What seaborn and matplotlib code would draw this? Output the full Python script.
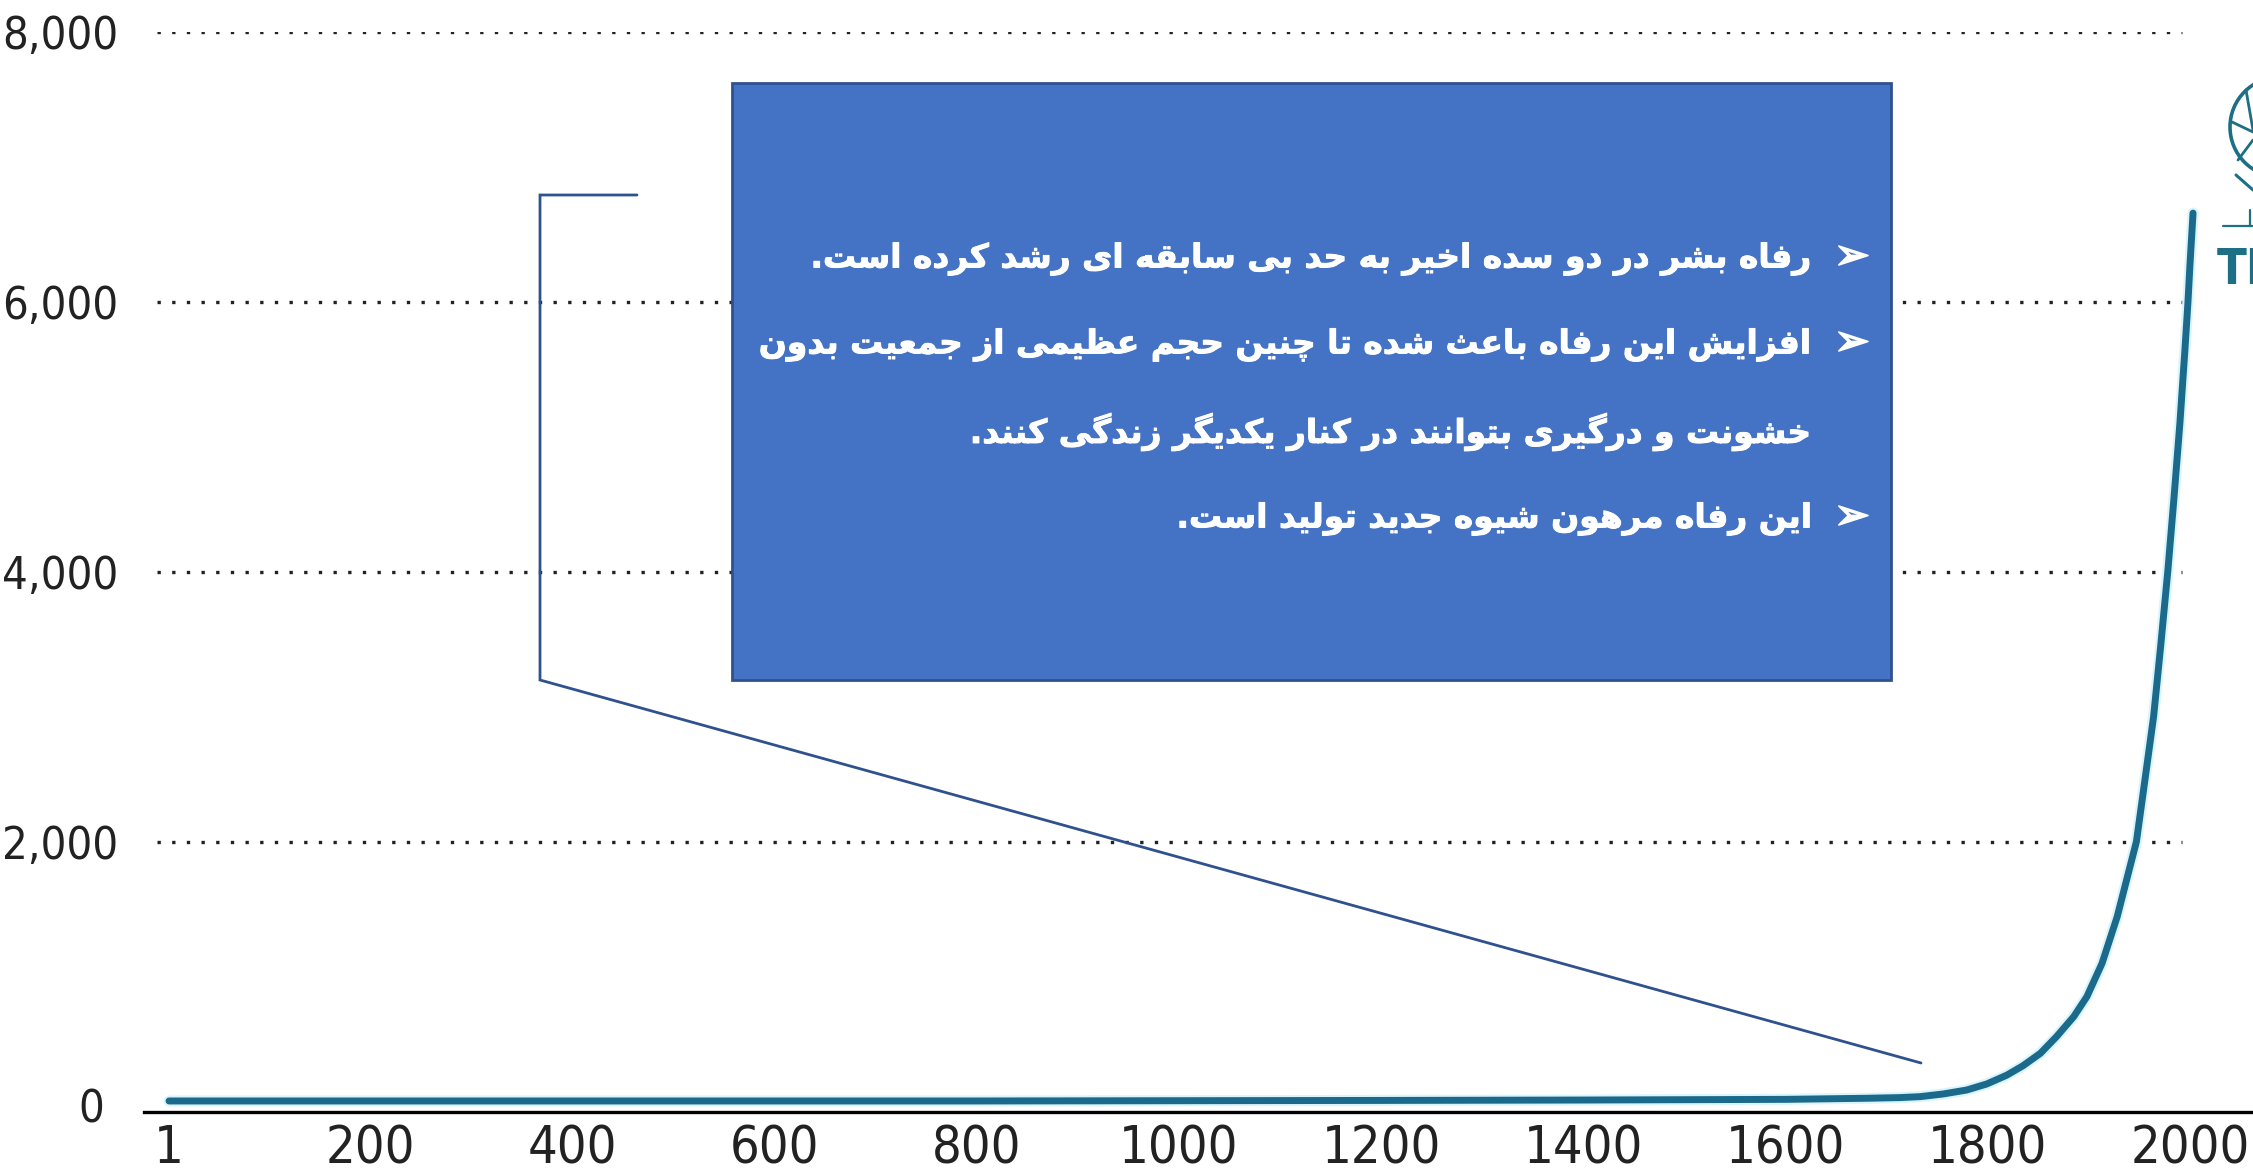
import numpy as np
import pandas as pd
import matplotlib
matplotlib.use('Agg')
import matplotlib.pyplot as plt
import matplotlib.patheffects as pe
from matplotlib.patches import Rectangle, Circle
import seaborn as sns

# values
years = [1, 200, 400, 600, 800, 1000, 1200, 1400, 1600, 1680, 1713, 1733, 1756, 1779, 1799, 1819,
         1835, 1852, 1868, 1885, 1898, 1913, 1928, 1939, 1947, 1955, 1964, 1971, 1978, 1984, 1990,
         1995, 1998, 2000, 2003]
gdp = [78, 78, 78, 78, 78, 80, 82, 85, 90, 98, 103, 110, 130, 159, 204, 270,
       340, 431, 555, 703, 851, 1098, 1444, 1766, 2000, 2434, 2927, 3450, 4000, 4533, 5100,
       5647, 6000, 6280, 6658]

x_ticks = [1, 200, 400, 600, 800, 1000, 1200, 1400, 1600, 1800, 2000]
y_ticks = [0, 2000, 4000, 6000, 8000]
y_labels = ['', '2,000', '4,000', '6,000', '8,000']
zero_label = '0'

bullets = [
    'رفاه بشر در دو سده اخیر به حد بی سابقه ای رشد کرده است.',
    'افزایش این رفاه باعث شده تا چنین حجم عظیمی از جمعیت بدون',
    'خشونت و درگیری بتوانند در کنار یکدیگر زندگی کنند.',
    'این رفاه مرهون شیوه جدید تولید است.',
]
has_arrow = [True, True, False, True]
logo_text = 'TE'

# matplotlib has no arabic shaping, so pick the presentation forms by hand
# letter: isolated, final, initial, medial (two forms = does not join forward)
forms = {
    'ا': (0xFE8D, 0xFE8E), 'د': (0xFEA9, 0xFEAA), 'ذ': (0xFEAB, 0xFEAC),
    'ر': (0xFEAD, 0xFEAE), 'ز': (0xFEAF, 0xFEB0), 'ژ': (0xFB8A, 0xFB8B), 'و': (0xFEED, 0xFEEE),
    'ب': (0xFE8F, 0xFE90, 0xFE91, 0xFE92), 'پ': (0xFB56, 0xFB57, 0xFB58, 0xFB59),
    'ت': (0xFE95, 0xFE96, 0xFE97, 0xFE98), 'ث': (0xFE99, 0xFE9A, 0xFE9B, 0xFE9C),
    'ج': (0xFE9D, 0xFE9E, 0xFE9F, 0xFEA0), 'چ': (0xFB7A, 0xFB7B, 0xFB7C, 0xFB7D),
    'ح': (0xFEA1, 0xFEA2, 0xFEA3, 0xFEA4), 'خ': (0xFEA5, 0xFEA6, 0xFEA7, 0xFEA8),
    'س': (0xFEB1, 0xFEB2, 0xFEB3, 0xFEB4), 'ش': (0xFEB5, 0xFEB6, 0xFEB7, 0xFEB8),
    'ط': (0xFEC1, 0xFEC2, 0xFEC3, 0xFEC4), 'ظ': (0xFEC5, 0xFEC6, 0xFEC7, 0xFEC8),
    'ع': (0xFEC9, 0xFECA, 0xFECB, 0xFECC), 'غ': (0xFECD, 0xFECE, 0xFECF, 0xFED0),
    'ف': (0xFED1, 0xFED2, 0xFED3, 0xFED4), 'ق': (0xFED5, 0xFED6, 0xFED7, 0xFED8),
    'ک': (0xFB8E, 0xFB8F, 0xFB90, 0xFB91), 'گ': (0xFB92, 0xFB93, 0xFB94, 0xFB95),
    'ل': (0xFEDD, 0xFEDE, 0xFEDF, 0xFEE0), 'م': (0xFEE1, 0xFEE2, 0xFEE3, 0xFEE4),
    'ن': (0xFEE5, 0xFEE6, 0xFEE7, 0xFEE8), 'ه': (0xFEE9, 0xFEEA, 0xFEEB, 0xFEEC),
    'ی': (0xFBFC, 0xFBFD, 0xFBFE, 0xFBFF),
}


def shape(line):
    out = []
    for i, ch in enumerate(line):
        if ch not in forms:
            out.append(ch)
            continue
        prev_ch = line[i - 1] if i > 0 else ' '
        next_ch = line[i + 1] if i + 1 < len(line) else ' '
        joins_prev = prev_ch in forms and len(forms[prev_ch]) == 4
        joins_next = next_ch in forms and len(forms[ch]) == 4
        if joins_prev and joins_next:
            code = forms[ch][3]
        elif joins_prev:
            code = forms[ch][1]
        elif joins_next:
            code = forms[ch][2]
        else:
            code = forms[ch][0]
        out.append(chr(code))
    return ''.join(reversed(out))


W, H = 2253, 1174
sns.set_theme(style='white')
plt.rcParams['font.family'] = ['DejaVu Sans']

fig = plt.figure(figsize=(W / 100, H / 100), dpi=100)
ax = fig.add_axes([144 / W, 1 - 1111.5 / H, (2251 - 144) / W, (1111.5 - 32) / H])

df = pd.DataFrame({'year': years, 'gdp': gdp})
ax.hlines(y_ticks[1:], -11, 1992, colors='#222222', linewidth=2.4, linestyles=[(0, (1, 3.4))], zorder=1)
sns.lineplot(data=df, x='year', y='gdp', ax=ax, color='#d9f5fc', linewidth=8, errorbar=None, clip_on=False, zorder=2)
sns.lineplot(data=df, x='year', y='gdp', ax=ax, color='#1b6a8c', linewidth=5, errorbar=None, clip_on=False, zorder=3)

ax.set_xlim((144 - 168) / 1.011, (2251 - 168) / 1.011)
ax.set_ylim(0, 8000)
ax.set_xlabel('')
ax.set_ylabel('')
ax.set_xticks(x_ticks)
ax.set_xticklabels([str(t) for t in x_ticks], fontsize=37.5, fontstretch='condensed', color='#222222')
ax.set_yticks(y_ticks)
ax.set_yticklabels(y_labels, fontsize=32.5, fontstretch='condensed', color='#222222')
ax.tick_params(axis='x', length=0, pad=9)
ax.tick_params(axis='y', length=0, pad=18.7)
ax.grid(False)
sns.despine(ax=ax, left=True)
ax.spines['bottom'].set_color('black')
ax.spines['bottom'].set_linewidth(2.4)

# overlay in reference pixels for the box, callout and logo
ov = fig.add_axes([0, 0, 1, 1], zorder=5)
ov.set_xlim(0, W)
ov.set_ylim(H, 0)
ov.axis('off')
ov.patch.set_alpha(0)

ov.text(91, 1110, zero_label, fontsize=32.5, fontstretch='condensed', color='#222222', ha='center', va='center')

ov.add_patch(Rectangle((732, 83), 1159, 597, facecolor='#4472C4', edgecolor='#2F528F', linewidth=2))
ov.plot([637, 540, 540, 1921], [195, 195, 680, 1063], color='#2F528F', linewidth=2, solid_joinstyle='miter')

row_y = [259, 345, 432, 519]
for line, y, arrow in zip(bullets, row_y, has_arrow):
    ov.text(1812, y, shape(line), family='DejaVu Sans', fontweight='bold', fontsize=23.7,
            color='white', ha='right', va='center',
            path_effects=[pe.withStroke(linewidth=0.7, foreground='white')])
    if arrow:
        ov.text(1852, y - 2, '\u27a2', family='DejaVu Sans', fontsize=31, color='white', ha='center', va='center',
                path_effects=[pe.withStroke(linewidth=1.2, foreground='white')])

# logo cut by the right edge
logo_col = '#1d6f86'
ov.add_patch(Circle((2280, 127), 50, facecolor='none', edgecolor=logo_col, linewidth=2.6))
ov.plot([2232, 2253], [122, 132], color=logo_col, linewidth=2)
ov.plot([2246, 2253], [90, 130], color=logo_col, linewidth=2)
ov.plot([2238, 2253], [160, 140], color=logo_col, linewidth=2)
ov.plot([2236, 2253], [175, 190], color=logo_col, linewidth=2.2)
ov.plot([2223, 2253], [226, 226], color=logo_col, linewidth=1.6)
ov.plot([2250, 2250], [210, 226], color=logo_col, linewidth=1.6)
ov.text(2217, 284, logo_text, family='DejaVu Sans', fontstretch='condensed', fontweight='bold', fontsize=35,
        color=logo_col, ha='left', va='baseline')

fig.savefig('out.png', dpi=100, facecolor='white')
